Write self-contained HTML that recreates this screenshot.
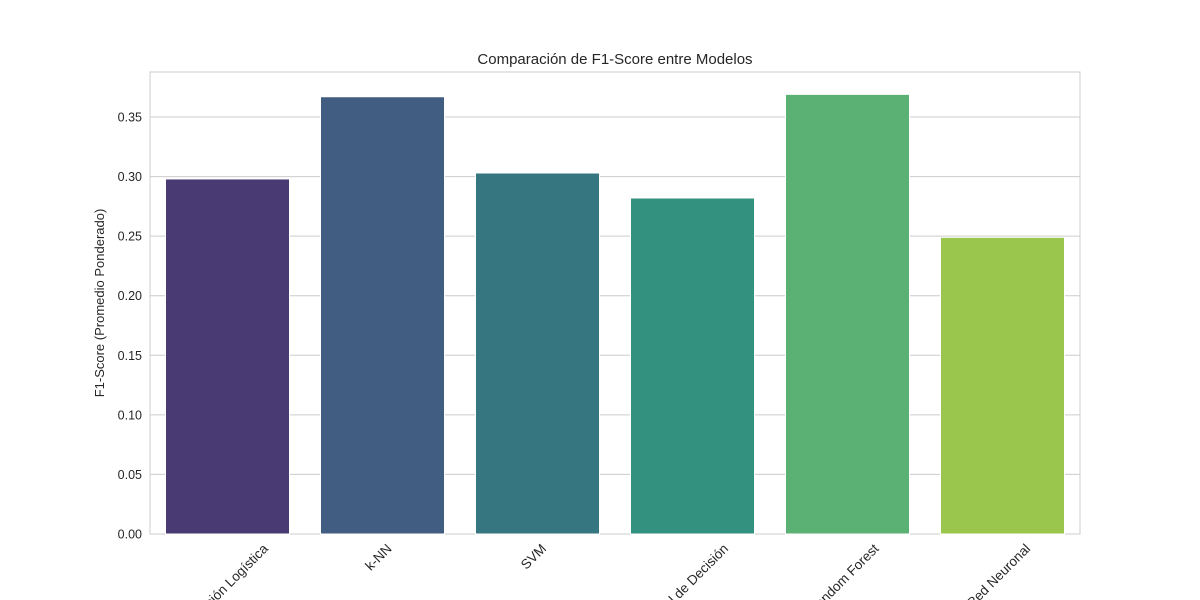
<!DOCTYPE html>
<html><head><meta charset="utf-8"><style>
html,body{margin:0;background:#fff;width:1200px;height:600px;overflow:hidden}
svg{display:block;font-family:"Liberation Sans","DejaVu Sans",sans-serif;overflow:hidden}
</style></head><body>
<svg id="chart" width="1200" height="600">
<g id="grid"></g><g id="bars"></g><g id="axes"></g>
<text x="615" y="64" font-size="15" fill="#262626" text-anchor="middle">Comparación de F1-Score entre Modelos</text>
<text transform="translate(104,303) rotate(-90)" font-size="13" fill="#262626" text-anchor="middle">F1-Score (Promedio Ponderado)</text>
</svg>
<script>
const categories=["Regresión Logística","k-NN","SVM","Árbol de Decisión","Random Forest","Red Neuronal"];
const values=[0.298,0.367,0.303,0.282,0.369,0.249];
const colors=["#4a3a73","#415e82","#357681","#32917f","#5ab173","#9ac64e"];
const yTicks=[0,0.05,0.10,0.15,0.20,0.25,0.30,0.35];
const NS="http://www.w3.org/2000/svg";
const L=150,R=1080,T=72,B=534;
const y=v=>B-v*(B-117)/0.35;
const step=(R-L)/categories.length;
const x=i=>L+step*(i+0.5);
function mk(tag,attrs,parent){const e=document.createElementNS(NS,tag);for(const k in attrs)e.setAttribute(k,attrs[k]);parent.appendChild(e);return e;}
const grid=document.getElementById('grid'),bars=document.getElementById('bars'),axes=document.getElementById('axes');
mk('rect',{x:L,y:T,width:R-L,height:B-T,fill:'#fff',stroke:'#cccccc','stroke-width':1},grid);
yTicks.forEach(t=>{
 const l=mk('line',{x1:L,x2:R,y1:y(t),y2:y(t),stroke:'#cccccc','stroke-width':1},grid);
 
 
 const tx=mk('text',{x:L-8,y:y(t)+4.5,'font-size':12.5,fill:'#262626','text-anchor':'end'},axes);
 tx.textContent=t.toFixed(2);
 
 
});
values.forEach((v,i)=>{
 const w=step*0.8;
 const r=mk('rect',{x:x(i)-w/2,y:y(v),width:w,height:B-y(v),fill:colors[i],stroke:'#fff','stroke-width':1},bars);
 
 
 const t=mk('text',{'font-size':13.5,fill:'#262626','text-anchor':'middle','dominant-baseline':'central'},axes);
 t.textContent=categories[i];
 
 
 const tw=t.getComputedTextLength(),h=15;
 const cy=541+(tw+h)*0.7071/2;
 t.setAttribute('transform','translate('+(x(i)-4)+','+cy+') rotate(-45)');
});
</script>
</body></html>
